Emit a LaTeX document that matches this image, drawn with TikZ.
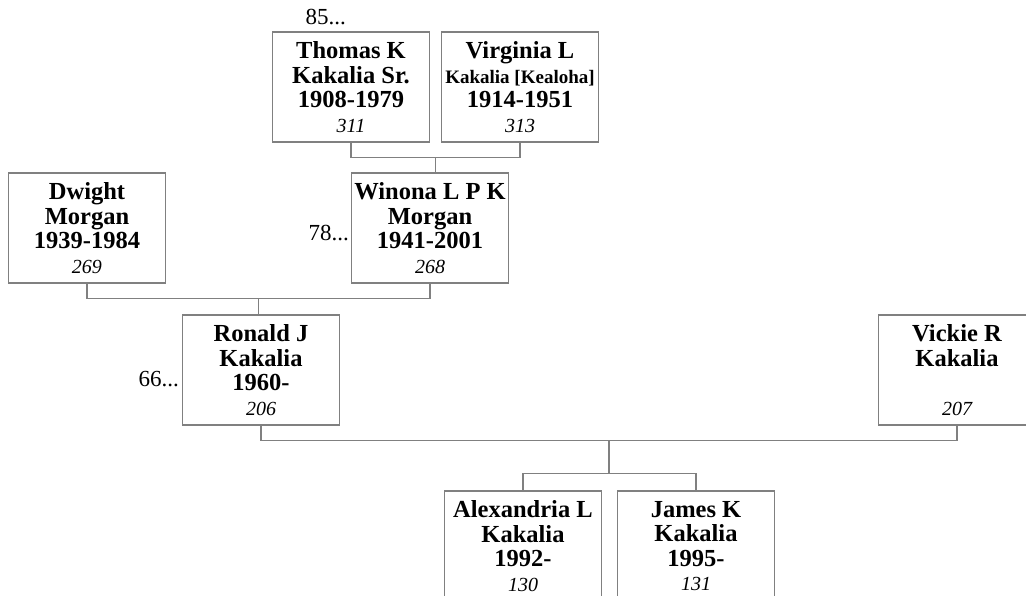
\documentclass[tikz,border=0pt]{standalone}
\usepackage{fontspec}
\setmainfont{Liberation Serif}
\usetikzlibrary{calc}
\definecolor{linegray}{RGB}{128,128,128}
\newcommand\idn[1]{{\normalfont\fontsize{20}{24.5}\selectfont\itshape #1}}
\tikzset{
  person/.style={draw=linegray, line width=1.3pt, minimum width=157pt, minimum height=110pt,
    align=center, inner sep=0pt, font=\bfseries\fontsize{24.5}{24.5}\selectfont},
  conn/.style={draw=linegray, line width=1.3pt},
  gen/.style={font=\fontsize{23}{24}\selectfont, inner sep=0pt}
}
\begin{document}
\begin{tikzpicture}[x=1pt,y=-1pt]
\useasboundingbox (0,0) rectangle (1026,596);
\clip (0,0) rectangle (1026,596);
\node[person] (thomas) at (351,87) {Thomas K\\Kakalia Sr.\\1908-1979\\\idn{311}};
\node[person] (virginia) at (520,87) {Virginia L\\{\fontsize{19}{24.5}\selectfont Kakalia [Kealoha]}\\1914-1951\\\idn{313}};
\node[person] (dwight) at (87,228) {Dwight\\Morgan\\1939-1984\\\idn{269}};
\node[person] (winona) at (430,228) {Winona L P K\\Morgan\\1941-2001\\\idn{268}};
\node[person] (ronald) at (261,370) {Ronald J\\Kakalia\\1960-\\\idn{206}};
\node[person] (vickie) at (957,370) {Vickie R\\Kakalia\\\mbox{}\\\idn{207}};
\node[person] (alex) at (523,546) {Alexandria L\\Kakalia\\1992-\\\idn{130}};
\node[person] (james) at (696,546) {James K\\Kakalia\\1995-\\\idn{131}};
\node[gen, anchor=base east] (g85) at (346,25) {85...};
\node[gen, anchor=base east] (g78) at (349,241) {78...};
\node[gen, anchor=base east] (g66) at (179,386) {66...};
% connectors
\draw[conn] (thomas.south) -- ++(0,15) coordinate (t1) -| (virginia.south);
\coordinate (m1) at ($(t1)!0.5!(t1 -| virginia.south)$);
\draw[conn] (m1) -- (m1 |- winona.north);
\draw[conn] (dwight.south) -- ++(0,15) coordinate (t2) -| (winona.south);
\coordinate (m2) at ($(t2)!0.5!(t2 -| winona.south)$);
\draw[conn] (m2) -- (m2 |- ronald.north);
\draw[conn] (ronald.south) -- ++(0,15) coordinate (t3) -| (vickie.south);
\coordinate (m3) at ($(t3)!0.5!(t3 -| vickie.south)$);
\coordinate (c1) at ($(m3)+(0,33)$);
\draw[conn] (m3) -- (c1);
\draw[conn] (alex.north) -- (alex.north |- c1) -- (james.north |- c1) -- (james.north);
\end{tikzpicture}
\end{document}
